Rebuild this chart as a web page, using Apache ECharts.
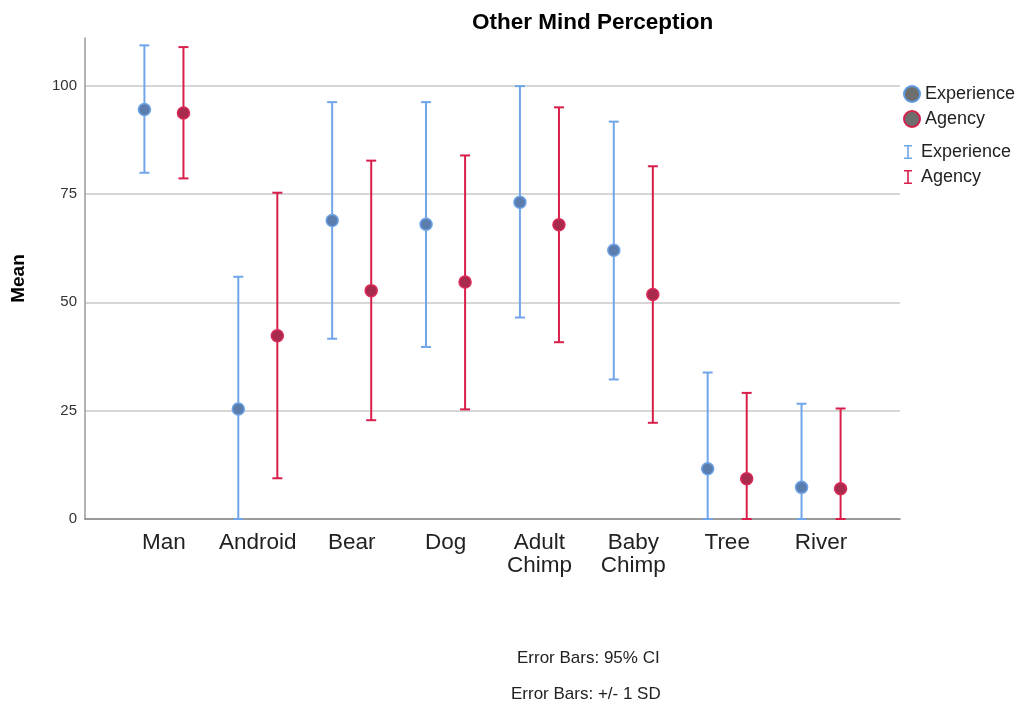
<!DOCTYPE html>
<html>
<head>
<meta charset="utf-8">
<title>Other Mind Perception</title>
<script src="https://cdn.jsdelivr.net/npm/echarts@6/dist/echarts.min.js"></script>
<style>
  html, body { margin: 0; padding: 0; background: #fff; }
  #chart { width: 1021px; height: 705px; }
</style>
</head>
<body>
<div id="chart"></div>
<script>
// data
const categories = ["Man", "Android", "Bear", "Dog", "Adult\nChimp", "Baby\nChimp", "Tree", "River"];
const experienceMean = [94.5, 25.4, 68.9, 68.0, 73.1, 62.0, 11.6, 7.3];
const experienceLow = [79.9, -5.1, 41.6, 39.7, 46.5, 32.2, -10.6, -12.0];
const experienceHigh = [109.3, 55.9, 96.2, 96.2, 99.9, 91.7, 33.8, 26.6];
const agencyMean = [93.7, 42.3, 52.7, 54.7, 67.9, 51.8, 9.3, 7.0];
const agencyLow = [78.6, 9.4, 22.8, 25.3, 40.8, 22.2, -10.5, -11.5];
const agencyHigh = [108.9, 75.3, 82.7, 83.9, 95.0, 81.4, 29.1, 25.5];
const yTicks = [0, 25, 50, 75, 100];

const blueBar = "#70a5ea";
const redBar = "#d81f4b";
const font = "Liberation Sans, Arial, sans-serif";
const barIcon = "path://M0,0H8V1.6H4.8V12.4H8V14H0V12.4H3.2V1.6H0Z";

// error bar with caps, shifted inside the category band
function errorBar(offset, color) {
  return function (params, api) {
    const i = api.value(0);
    const lo = Math.max(api.value(1), 0);
    const hi = api.value(2);
    const band = api.size([1, 0])[0];
    const x = api.coord([i, 0])[0] + offset * band;
    const yHi = api.coord([i, hi])[1];
    const yLo = api.coord([i, lo])[1];
    const style = { stroke: color, lineWidth: 2 };
    return {
      type: "group",
      children: [
        { type: "line", shape: { x1: x, y1: yHi, x2: x, y2: yLo }, style: style },
        { type: "line", shape: { x1: x - 5, y1: yHi, x2: x + 5, y2: yHi }, style: style },
        { type: "line", shape: { x1: x - 5, y1: yLo, x2: x + 5, y2: yLo }, style: style }
      ]
    };
  };
}

const expBars = categories.map((c, i) => [i, experienceLow[i], experienceHigh[i]]);
const agBars = categories.map((c, i) => [i, agencyLow[i], agencyHigh[i]]);

let myChart = echarts.init(document.getElementById("chart"));
myChart.setOption({
  animation: false,
  title: [
    { text: "Other Mind Perception", left: 472, top: 11, padding: 0,
      textStyle: { fontFamily: font, fontSize: 22.5, fontWeight: "bold", color: "#000" } },
    { text: "Error Bars: 95% CI", left: 517, top: 650, padding: 0,
      textStyle: { fontFamily: font, fontSize: 17, fontWeight: "normal", color: "#222" } },
    { text: "Error Bars: +/- 1 SD", left: 511, top: 686, padding: 0,
      textStyle: { fontFamily: font, fontSize: 17, fontWeight: "normal", color: "#222" } }
  ],
  legend: [
    {
      orient: "vertical", left: 903, top: 85, padding: 0, itemWidth: 16, itemHeight: 16, itemGap: 7,
      textStyle: { fontFamily: font, fontSize: 18, color: "#222" },
      data: [
        { name: "Experience", icon: "circle", itemStyle: { color: "#6e6e6e", borderColor: "#5d9be6", borderWidth: 2 } },
        { name: "Agency", icon: "circle", itemStyle: { color: "#6e6e6e", borderColor: "#d6204c", borderWidth: 2 } }
      ]
    },
    {
      orient: "vertical", left: 904, top: 143, padding: 0, itemWidth: 16, itemHeight: 14, itemGap: 7,
      textStyle: { fontFamily: font, fontSize: 18, color: "#222" },
      formatter: function (name) { return name.replace(" bar", ""); },
      data: [
        { name: "Experience bar", icon: barIcon },
        { name: "Agency bar", icon: barIcon }
      ]
    }
  ],
  grid: [
    { left: 85, right: 121, top: 38, bottom: 186, outerBoundsMode: "none" },
    { left: 117, right: 153, top: 38, bottom: 186, outerBoundsMode: "none" }
  ],
  xAxis: [
    {
      gridIndex: 0, type: "value", min: 0, max: 1,
      axisLine: { show: true, lineStyle: { color: "#7a7a7a", width: 1.5 } },
      axisTick: { show: false }, axisLabel: { show: false }, splitLine: { show: false }
    },
    {
      gridIndex: 1, type: "category", data: categories,
      axisLine: { show: false }, axisTick: { show: false },
      axisLabel: { fontFamily: font, fontSize: 22.5, lineHeight: 23, color: "#222", margin: 12, interval: 0 }
    }
  ],
  yAxis: [
    {
      gridIndex: 0, type: "value", min: yTicks[0], max: 111, interval: 25,
      name: "Mean", nameLocation: "middle", nameGap: 57, nameRotate: 90,
      nameTextStyle: { fontFamily: font, fontSize: 19, fontWeight: "bold", color: "#000" },
      axisLine: { show: true, lineStyle: { color: "#9a9a9a", width: 1.5 } },
      axisTick: { show: false },
      axisLabel: { fontFamily: font, fontSize: 15, color: "#333", margin: 8, showMaxLabel: false },
      splitLine: { show: true, showMinLine: false, showMaxLine: false, lineStyle: { color: "#c8c8c8", width: 1.5 } }
    },
    {
      gridIndex: 1, type: "value", min: yTicks[0], max: 111,
      axisLine: { show: false }, axisTick: { show: false }, axisLabel: { show: false }, splitLine: { show: false }
    }
  ],
  series: [
    {
      name: "Experience bar", type: "custom", xAxisIndex: 1, yAxisIndex: 1,
      itemStyle: { color: blueBar }, encode: { x: 0, y: [1, 2] },
      renderItem: errorBar(-0.208, blueBar), data: expBars, z: 2
    },
    {
      name: "Agency bar", type: "custom", xAxisIndex: 1, yAxisIndex: 1,
      itemStyle: { color: redBar }, encode: { x: 0, y: [1, 2] },
      renderItem: errorBar(0.208, redBar), data: agBars, z: 2
    },
    {
      name: "Experience", type: "scatter", xAxisIndex: 1, yAxisIndex: 1,
      data: experienceMean, symbolSize: 12, symbolOffset: [-19.5, 0],
      itemStyle: { color: "#5b7dae", borderColor: "#6da3e8", borderWidth: 1.5, opacity: 1 }, z: 3
    },
    {
      name: "Agency", type: "scatter", xAxisIndex: 1, yAxisIndex: 1,
      data: agencyMean, symbolSize: 12, symbolOffset: [19.5, 0],
      itemStyle: { color: "#a82a4d", borderColor: "#dc2a58", borderWidth: 1.5, opacity: 1 }, z: 3
    }
  ]
});
</script>
</body>
</html>
